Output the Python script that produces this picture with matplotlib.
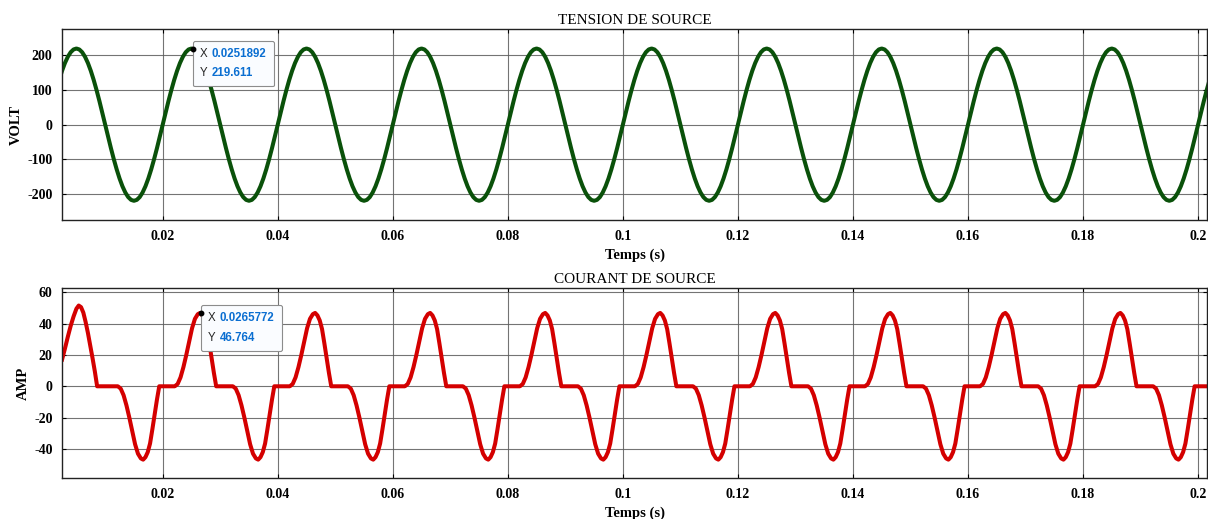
"""Source voltage / source current waveforms (MATLAB-style scope figure)."""
import matplotlib

matplotlib.use("Agg")
import matplotlib.pyplot as plt
import numpy as np
from matplotlib.offsetbox import AnnotationBbox, HPacker, TextArea, VPacker

# one period of the source voltage, read every 0.5 ms starting at t = 0 (V)
volt_cycle = [0.0, 34.4, 67.9, 99.7, 129.1, 155.3, 177.7, 195.7, 208.9, 216.9,
              219.6, 216.9, 208.9, 195.7, 177.7, 155.3, 129.1, 99.7, 67.9, 34.4,
              0.0, -34.4, -67.9, -99.7, -129.1, -155.3, -177.7, -195.7, -208.9, -216.9,
              -219.6, -216.9, -208.9, -195.7, -177.7, -155.3, -129.1, -99.7, -67.9, -34.4]
volt_step_ms = 0.5
period_ms = 20.0
n_cycles = 11

# first (transient) positive lobe of the source current (ms, A)
first_t_ms = [2.5, 3.0, 3.5, 4.0, 4.5, 5.0, 5.4, 5.8, 6.2, 6.6, 7.0, 7.4, 7.8, 8.2, 8.6]
first_amp = [17.0, 24.0, 31.5, 38.5, 44.5, 49.5, 51.5, 50.5, 47.0, 41.0, 34.0, 26.0, 18.0, 9.5, 0.0]
first_end_ms = 9.0  # steady-state period takes over after this

# steady-state current period (ms inside the 20 ms period, A)
cycle_t_ms = [0.0, 2.1, 2.6, 3.1, 3.6, 4.1, 4.6, 5.1, 5.6, 6.1, 6.5, 6.9, 7.3, 7.7, 8.1, 8.5, 8.9, 9.3,
              12.2, 12.7, 13.2, 13.7, 14.2, 14.7, 15.2, 15.7, 16.2, 16.6, 17.0, 17.4, 17.8, 18.2,
              18.6, 19.0, 19.4]
cycle_amp = [0.0, 0.0, 1.5, 5.7, 12.2, 20.0, 28.5, 37.0, 43.0, 46.0, 46.8, 45.2, 42.0, 36.5, 27.5,
             18.0, 8.5, 0.0,
             0.0, -1.5, -5.7, -12.2, -20.0, -28.5, -37.0, -43.0, -46.0, -46.8, -45.2, -42.0, -36.5,
             -27.5, -18.0, -8.5, 0.0]

# data tips shown on the scope
tip_volt = (0.0251892, 219.611)
tip_amp = (0.0265772, 46.764)

xticks = [0.02, 0.04, 0.06, 0.08, 0.1, 0.12, 0.14, 0.16, 0.18, 0.2]
volt_ticks = [-200, -100, 0, 100, 200]
amp_ticks = [-40, -20, 0, 20, 40, 60]

# ---- build the series -------------------------------------------------------
volt = np.tile(volt_cycle, n_cycles)
t_volt = np.arange(volt.size) * volt_step_ms / 1000.0

ct = np.asarray(cycle_t_ms)
ca = np.asarray(cycle_amp)
keep = ct > first_end_ms
t_parts = [np.asarray(first_t_ms), ct[keep]]
a_parts = [np.asarray(first_amp), ca[keep]]
for k in range(1, n_cycles):
    t_parts.append(ct + period_ms * k)
    a_parts.append(ca)
t_amp = np.concatenate(t_parts) / 1000.0
amp = np.concatenate(a_parts)

# ---- figure -----------------------------------------------------------------
plt.rcParams["font.family"] = ["Liberation Serif", "DejaVu Serif"]
GREEN = "#0a510a"
RED = "#d40000"
GRID = "#5c5c5c"

fig = plt.figure(figsize=(12.08, 5.19), dpi=100)
ax1 = fig.add_axes([0.0516, 0.5761, 0.9478, 0.3674])
ax2 = fig.add_axes([0.0516, 0.0784, 0.9478, 0.3661])


def style(ax, yticks, ylim, ylabel, title):
    ax.set_xlim(0.00255, 0.2016)
    ax.set_ylim(*ylim)
    ax.set_xticks(xticks)
    ax.set_xticklabels([f"{v:g}" for v in xticks])
    ax.set_yticks(yticks)
    ax.set_yticklabels([f"{v:g}" for v in yticks])
    ax.tick_params(direction="in", length=3, width=0.8, top=True, right=True,
                   labelsize=10, pad=7)
    for lab in ax.get_xticklabels() + ax.get_yticklabels():
        lab.set_fontweight("bold")
    ax.grid(True, color=GRID, lw=0.8, alpha=0.85)
    ax.set_axisbelow(True)
    for sp in ax.spines.values():
        sp.set_linewidth(1.0)
        sp.set_color("#222222")
    ax.set_xlabel("Temps (s)", fontsize=10.5, fontweight="bold", labelpad=4)
    ax.set_ylabel(ylabel, fontsize=10.5, fontweight="bold", labelpad=3)
    ax.set_title(title, fontsize=11, pad=4)


def datatip(ax, x, y, xs, ys):
    ax.plot([x], [y], "o", color="black", ms=3.2, zorder=8)
    font = ["Liberation Sans", "DejaVu Sans"]
    rows = []
    for lab, val in (("X", xs), ("Y", ys)):
        rows.append(HPacker(children=[
            TextArea(lab, textprops=dict(color="#262626", fontsize=8.3, family=font)),
            TextArea(val, textprops=dict(color="#0a6ed1", fontsize=8.3, fontweight="bold",
                                         family=font)),
        ], sep=3, pad=0, align="baseline"))
    box = VPacker(children=rows, sep=5.5, pad=0, align="left")
    ab = AnnotationBbox(box, (x, y), xybox=(5.5, 0.5), xycoords="data",
                        boxcoords="offset points", box_alignment=(0, 1), pad=0.5,
                        frameon=True, zorder=7,
                        bboxprops=dict(boxstyle="round,pad=0.5,rounding_size=0.12",
                                       fc="#fafcff", ec="#8c8c8c", lw=0.8))
    ax.add_artist(ab)


ax1.plot(t_volt, volt, color=GREEN, lw=2.9, solid_joinstyle="round")
style(ax1, volt_ticks, (-275, 275), "VOLT", "TENSION DE SOURCE")
datatip(ax1, tip_volt[0], tip_volt[1], f"{tip_volt[0]:g}", f"{tip_volt[1]:g}")

ax2.plot(t_amp, amp, color=RED, lw=2.9, solid_joinstyle="round")
style(ax2, amp_ticks, (-58.7, 62.5), "AMP", "COURANT DE SOURCE")
datatip(ax2, tip_amp[0], tip_amp[1], f"{tip_amp[0]:g}", f"{tip_amp[1]:g}")

fig.savefig("out.png", dpi=100)
plt.close(fig)
